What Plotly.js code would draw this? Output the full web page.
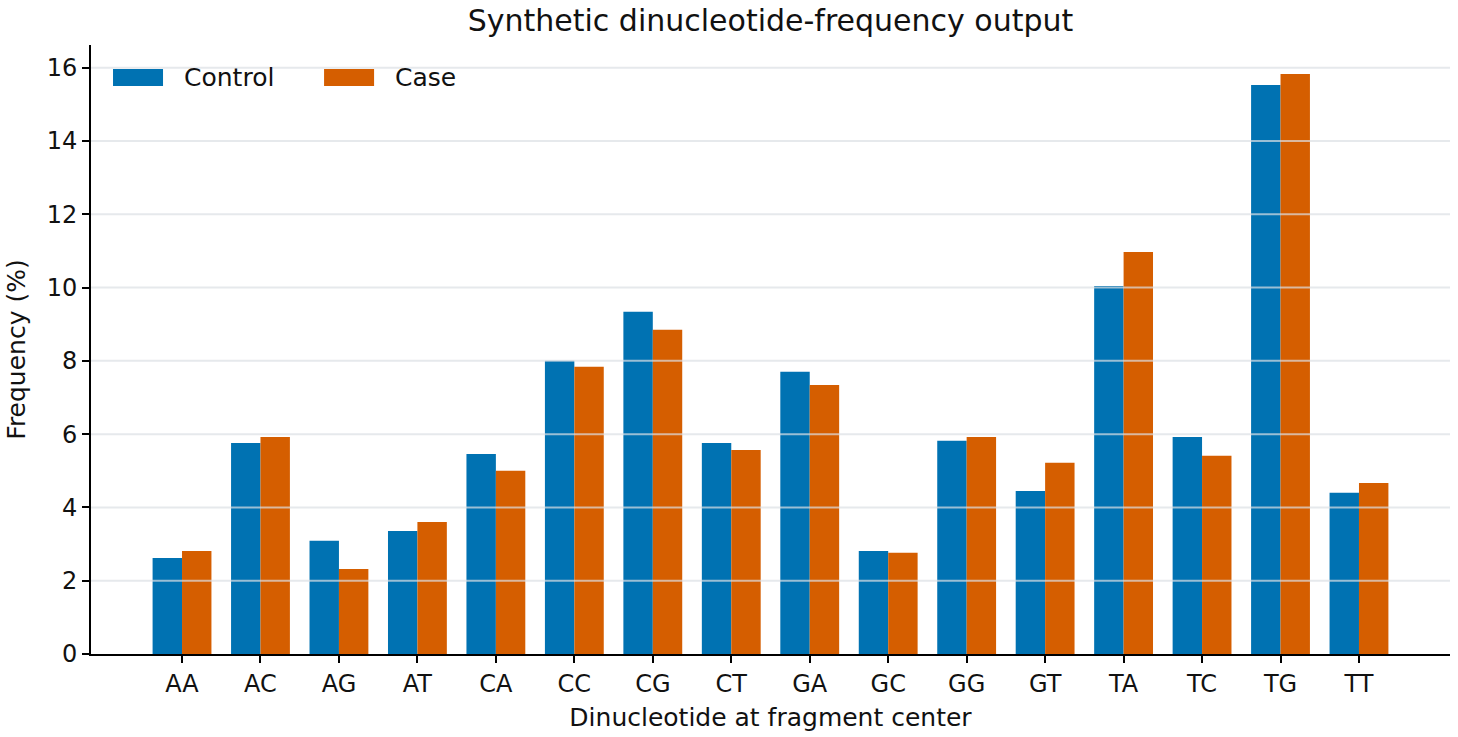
<!DOCTYPE html>
<html>
<head>
<meta charset="utf-8">
<script src="https://cdn.plot.ly/plotly-3.0.1.min.js"></script>
<style>
  html, body { margin: 0; padding: 0; background: #fff; }
  #myDiv { width: 1458px; height: 737px; }
</style>
</head>
<body>
<div id="myDiv"></div>
<script>
var graphDiv = 'myDiv'

// dinucleotide at fragment center
var dinucleotides = ['AA', 'AC', 'AG', 'AT', 'CA', 'CC', 'CG', 'CT',
                     'GA', 'GC', 'GG', 'GT', 'TA', 'TC', 'TG', 'TT']

// frequency (%) per group
var controlFreq = [2.62, 5.76, 3.09, 3.36, 5.46, 8.00, 9.34, 5.76,
                   7.70, 2.81, 5.82, 4.45, 10.04, 5.92, 15.53, 4.40]
var caseFreq    = [2.81, 5.92, 2.32, 3.60, 5.00, 7.84, 8.85, 5.57,
                   7.34, 2.76, 5.92, 5.22, 10.97, 5.41, 15.83, 4.67]

var yTicks = [0, 2, 4, 6, 8, 10, 12, 14, 16]

var groupNames = ['Control', 'Case']
var groupColors = ['#0072B2', '#D55E00']

var font = 'DejaVu Sans, sans-serif'

var control = {
  x: dinucleotides,
  y: controlFreq,
  name: groupNames[0],
  type: 'bar',
  marker: { color: groupColors[0] },
  hoverinfo: 'x+y+name'
}

var kase = {
  x: dinucleotides,
  y: caseFreq,
  name: groupNames[1],
  type: 'bar',
  marker: { color: groupColors[1] },
  hoverinfo: 'x+y+name'
}

var data = [control, kase]

var shapes = []
var annotations = []

/* Grid lines sit on top of the bars in the original, so they are
 * drawn as shapes above the traces instead of the axis grid.
 */
for (let i = 1; i < yTicks.length; i++) {
  shapes.push({
    type: 'line', xref: 'paper', yref: 'y', layer: 'above',
    x0: 0, x1: 1, y0: yTicks[i], y1: yTicks[i],
    line: { color: 'rgba(220,223,228,0.7)', width: 2 }
  })
}

/* Legend is drawn by hand so the swatches can be wide rectangles
 * like the original. Positions are in paper units of the plot area.
 */
var legendX = [0.0162, 0.1715]
for (let i = 0; i < groupNames.length; i++) {
  shapes.push({
    type: 'rect', xref: 'paper', yref: 'paper', layer: 'above',
    x0: legendX[i], x1: legendX[i] + 0.0368,
    y0: 0.9327, y1: 0.9606,
    fillcolor: groupColors[i], line: { width: 0 }
  })
  annotations.push({
    xref: 'paper', yref: 'paper',
    x: legendX[i] + 0.0510, y: 0.9466,
    xanchor: 'left', yanchor: 'middle',
    text: groupNames[i], showarrow: false,
    font: { family: font, size: 25, color: '#111' }
  })
}

var layout = {
  width: 1458,
  height: 737,
  margin: { l: 91, r: 8, t: 45, b: 83 },
  paper_bgcolor: '#fff',
  plot_bgcolor: '#fff',
  font: { family: font, size: 24, color: '#111' },
  title: {
    text: 'Synthetic dinucleotide-frequency output',
    font: { family: font, size: 30, color: '#111' },
    x: 0.5, xref: 'paper', y: 0.972, yanchor: 'middle'
  },
  barmode: 'group',
  bargap: 0.25,
  bargroupgap: 0,
  showlegend: false,
  xaxis: {
    range: [-1.16, 16.16],
    showgrid: false,
    showline: true,
    linecolor: '#000',
    linewidth: 2,
    ticks: 'outside',
    ticklen: 7,
    tickwidth: 2,
    tickcolor: '#000',
    tickfont: { family: font, size: 24, color: '#111' },
    title: { text: 'Dinucleotide at fragment center', font: { family: font, size: 25, color: '#111' }, standoff: 12 },
    zeroline: false
  },
  yaxis: {
    range: [0, 16.62],
    tickvals: yTicks,
    showgrid: false,
    showline: true,
    linecolor: '#000',
    linewidth: 2,
    ticks: 'outside',
    ticklen: 7,
    tickwidth: 2,
    tickcolor: '#000',
    tickfont: { family: font, size: 24, color: '#111' },
    title: { text: 'Frequency (%)', font: { family: font, size: 25, color: '#111' }, standoff: 14 },
    zeroline: false,
    layer: 'above traces'
  },
  shapes: shapes,
  annotations: annotations
}

Plotly.newPlot(graphDiv, data, layout, { displayModeBar: false, staticPlot: true });
</script>
</body>
</html>
